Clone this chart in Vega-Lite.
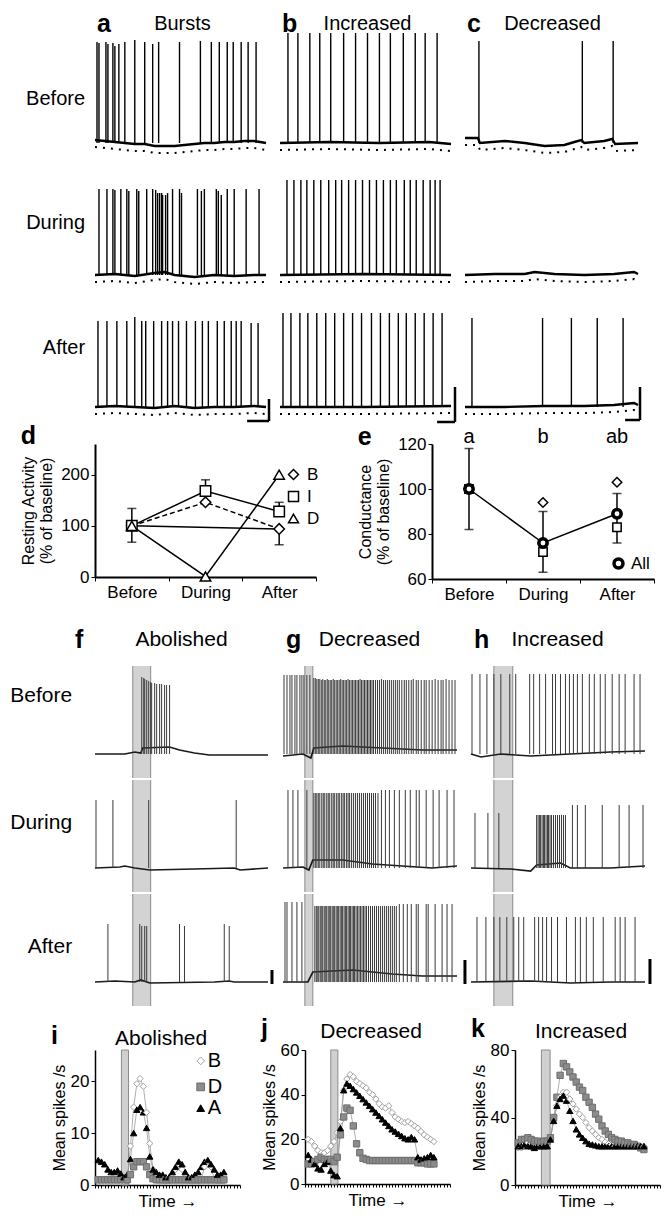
{
"$schema":"https://vega.github.io/schema/vega-lite/v6.json",
"background":"white",
"padding":{"left":10,"top":12,"right":4,"bottom":2},
"config":{"font":"Liberation Sans","view":{"stroke":null},
"axis":{"grid":false,"domainColor":"black","tickColor":"black","labelColor":"black","titleColor":"black","titleFontWeight":"normal"},
"header":{"labelColor":"black"},"legend":{"labelColor":"black"},"title":{"color":"black"},"text":{"color":"black"}},
"datasets":{
"top":[
{"p":"Bursts","c":"Before","k":"s","t":2,"h":101},{"p":"Bursts","c":"Before","k":"s","t":4,"h":100},{"p":"Bursts","c":"Before","k":"s","t":11,"h":101},{"p":"Bursts","c":"Before","k":"s","t":13,"h":99},{"p":"Bursts","c":"Before","k":"s","t":18,"h":100},{"p":"Bursts","c":"Before","k":"s","t":20,"h":97},{"p":"Bursts","c":"Before","k":"s","t":24,"h":99},{"p":"Bursts","c":"Before","k":"s","t":30,"h":101},{"p":"Bursts","c":"Before","k":"s","t":40,"h":103},{"p":"Bursts","c":"Before","k":"s","t":50,"h":101},{"p":"Bursts","c":"Before","k":"s","t":58,"h":99},{"p":"Bursts","c":"Before","k":"s","t":64,"h":101},{"p":"Bursts","c":"Before","k":"s","t":85,"h":101},{"p":"Bursts","c":"Before","k":"s","t":106,"h":102},{"p":"Bursts","c":"Before","k":"s","t":117,"h":101},{"p":"Bursts","c":"Before","k":"s","t":125,"h":101},{"p":"Bursts","c":"Before","k":"s","t":133,"h":101},{"p":"Bursts","c":"Before","k":"s","t":139,"h":101},{"p":"Bursts","c":"Before","k":"s","t":147,"h":101},{"p":"Bursts","c":"Before","k":"s","t":154,"h":101},{"p":"Bursts","c":"Before","k":"s","t":162,"h":101},
{"p":"Bursts","c":"During","k":"s","t":4,"h":86},{"p":"Bursts","c":"During","k":"s","t":12,"h":86},{"p":"Bursts","c":"During","k":"s","t":18,"h":86},{"p":"Bursts","c":"During","k":"s","t":20,"h":85},{"p":"Bursts","c":"During","k":"s","t":26,"h":86},{"p":"Bursts","c":"During","k":"s","t":32,"h":86},{"p":"Bursts","c":"During","k":"s","t":34,"h":84},{"p":"Bursts","c":"During","k":"s","t":42,"h":86},{"p":"Bursts","c":"During","k":"s","t":44,"h":84},{"p":"Bursts","c":"During","k":"s","t":52,"h":86},{"p":"Bursts","c":"During","k":"s","t":58,"h":86},{"p":"Bursts","c":"During","k":"s","t":61,"h":85},{"p":"Bursts","c":"During","k":"s","t":63,"h":82},{"p":"Bursts","c":"During","k":"s","t":65,"h":82},{"p":"Bursts","c":"During","k":"s","t":67,"h":82},{"p":"Bursts","c":"During","k":"s","t":68,"h":80},{"p":"Bursts","c":"During","k":"s","t":71,"h":80},{"p":"Bursts","c":"During","k":"s","t":73,"h":82},{"p":"Bursts","c":"During","k":"s","t":78,"h":86},{"p":"Bursts","c":"During","k":"s","t":85,"h":86},{"p":"Bursts","c":"During","k":"s","t":87,"h":82},{"p":"Bursts","c":"During","k":"s","t":103,"h":86},{"p":"Bursts","c":"During","k":"s","t":107,"h":84},{"p":"Bursts","c":"During","k":"s","t":110,"h":86},{"p":"Bursts","c":"During","k":"s","t":122,"h":86},{"p":"Bursts","c":"During","k":"s","t":124,"h":84},{"p":"Bursts","c":"During","k":"s","t":127,"h":80},{"p":"Bursts","c":"During","k":"s","t":133,"h":86},{"p":"Bursts","c":"During","k":"s","t":140,"h":86},{"p":"Bursts","c":"During","k":"s","t":152,"h":86},{"p":"Bursts","c":"During","k":"s","t":165,"h":86},
{"p":"Bursts","c":"After","k":"s","t":3,"h":86},{"p":"Bursts","c":"After","k":"s","t":12,"h":86},{"p":"Bursts","c":"After","k":"s","t":22,"h":86},{"p":"Bursts","c":"After","k":"s","t":32,"h":86},{"p":"Bursts","c":"After","k":"s","t":40,"h":90},{"p":"Bursts","c":"After","k":"s","t":47,"h":86},{"p":"Bursts","c":"After","k":"s","t":51,"h":86},{"p":"Bursts","c":"After","k":"s","t":59,"h":86},{"p":"Bursts","c":"After","k":"s","t":67,"h":86},{"p":"Bursts","c":"After","k":"s","t":73,"h":86},{"p":"Bursts","c":"After","k":"s","t":78,"h":86},{"p":"Bursts","c":"After","k":"s","t":84,"h":86},{"p":"Bursts","c":"After","k":"s","t":92,"h":86},{"p":"Bursts","c":"After","k":"s","t":101,"h":86},{"p":"Bursts","c":"After","k":"s","t":108,"h":86},{"p":"Bursts","c":"After","k":"s","t":114,"h":86},{"p":"Bursts","c":"After","k":"s","t":123,"h":86},{"p":"Bursts","c":"After","k":"s","t":130,"h":86},{"p":"Bursts","c":"After","k":"s","t":137,"h":86},{"p":"Bursts","c":"After","k":"s","t":142,"h":86},{"p":"Bursts","c":"After","k":"s","t":147,"h":86},{"p":"Bursts","c":"After","k":"s","t":157,"h":84},{"p":"Bursts","c":"After","k":"s","t":164,"h":84},
{"p":"Increased","c":"Before","k":"s","t":8,"h":110},{"p":"Increased","c":"Before","k":"s","t":18,"h":110},{"p":"Increased","c":"Before","k":"s","t":30,"h":110},{"p":"Increased","c":"Before","k":"s","t":40,"h":110},{"p":"Increased","c":"Before","k":"s","t":51,"h":110},{"p":"Increased","c":"Before","k":"s","t":64,"h":110},{"p":"Increased","c":"Before","k":"s","t":76,"h":110},{"p":"Increased","c":"Before","k":"s","t":88,"h":110},{"p":"Increased","c":"Before","k":"s","t":100,"h":110},{"p":"Increased","c":"Before","k":"s","t":111,"h":110},{"p":"Increased","c":"Before","k":"s","t":124,"h":110},{"p":"Increased","c":"Before","k":"s","t":136,"h":110},{"p":"Increased","c":"Before","k":"s","t":146,"h":110},{"p":"Increased","c":"Before","k":"s","t":158,"h":110},
{"p":"Increased","c":"During","k":"s","t":7,"h":95},{"p":"Increased","c":"During","k":"s","t":14,"h":95},{"p":"Increased","c":"During","k":"s","t":21,"h":95},{"p":"Increased","c":"During","k":"s","t":27,"h":95},{"p":"Increased","c":"During","k":"s","t":34,"h":95},{"p":"Increased","c":"During","k":"s","t":41,"h":95},{"p":"Increased","c":"During","k":"s","t":49,"h":95},{"p":"Increased","c":"During","k":"s","t":56,"h":95},{"p":"Increased","c":"During","k":"s","t":62,"h":95},{"p":"Increased","c":"During","k":"s","t":69,"h":95},{"p":"Increased","c":"During","k":"s","t":76,"h":95},{"p":"Increased","c":"During","k":"s","t":83,"h":95},{"p":"Increased","c":"During","k":"s","t":90,"h":95},{"p":"Increased","c":"During","k":"s","t":97,"h":95},{"p":"Increased","c":"During","k":"s","t":104,"h":95},{"p":"Increased","c":"During","k":"s","t":111,"h":95},{"p":"Increased","c":"During","k":"s","t":117,"h":95},{"p":"Increased","c":"During","k":"s","t":125,"h":95},{"p":"Increased","c":"During","k":"s","t":131,"h":95},{"p":"Increased","c":"During","k":"s","t":137,"h":95},{"p":"Increased","c":"During","k":"s","t":144,"h":95},{"p":"Increased","c":"During","k":"s","t":151,"h":95},{"p":"Increased","c":"During","k":"s","t":156,"h":95},{"p":"Increased","c":"During","k":"s","t":161,"h":95},
{"p":"Increased","c":"After","k":"s","t":3,"h":94},{"p":"Increased","c":"After","k":"s","t":11,"h":94},{"p":"Increased","c":"After","k":"s","t":20,"h":94},{"p":"Increased","c":"After","k":"s","t":28,"h":94},{"p":"Increased","c":"After","k":"s","t":37,"h":94},{"p":"Increased","c":"After","k":"s","t":46,"h":94},{"p":"Increased","c":"After","k":"s","t":55,"h":94},{"p":"Increased","c":"After","k":"s","t":64,"h":94},{"p":"Increased","c":"After","k":"s","t":73,"h":94},{"p":"Increased","c":"After","k":"s","t":82,"h":94},{"p":"Increased","c":"After","k":"s","t":92,"h":94},{"p":"Increased","c":"After","k":"s","t":101,"h":94},{"p":"Increased","c":"After","k":"s","t":110,"h":94},{"p":"Increased","c":"After","k":"s","t":119,"h":94},{"p":"Increased","c":"After","k":"s","t":127,"h":94},{"p":"Increased","c":"After","k":"s","t":136,"h":94},{"p":"Increased","c":"After","k":"s","t":145,"h":94},{"p":"Increased","c":"After","k":"s","t":154,"h":94},{"p":"Increased","c":"After","k":"s","t":163,"h":94},
{"p":"Decreased","c":"Before","k":"s","t":14,"h":102},{"p":"Decreased","c":"Before","k":"s","t":118,"h":102},{"p":"Decreased","c":"Before","k":"s","t":149,"h":102},
{"p":"Decreased","c":"After","k":"s","t":7,"h":89},{"p":"Decreased","c":"After","k":"s","t":78,"h":89},{"p":"Decreased","c":"After","k":"s","t":107,"h":89},{"p":"Decreased","c":"After","k":"s","t":133,"h":89},{"p":"Decreased","c":"After","k":"s","t":159,"h":89},
{"p":"Bursts","c":"Before","k":"b","t":0,"v":3},{"p":"Bursts","c":"Before","k":"b","t":10,"v":2},{"p":"Bursts","c":"Before","k":"b","t":20,"v":1},{"p":"Bursts","c":"Before","k":"b","t":30,"v":0},{"p":"Bursts","c":"Before","k":"b","t":40,"v":-1},{"p":"Bursts","c":"Before","k":"b","t":50,"v":-1},{"p":"Bursts","c":"Before","k":"b","t":60,"v":-3},{"p":"Bursts","c":"Before","k":"b","t":70,"v":-3},{"p":"Bursts","c":"Before","k":"b","t":80,"v":-3},{"p":"Bursts","c":"Before","k":"b","t":90,"v":-2},{"p":"Bursts","c":"Before","k":"b","t":100,"v":-1},{"p":"Bursts","c":"Before","k":"b","t":110,"v":0},{"p":"Bursts","c":"Before","k":"b","t":120,"v":0},{"p":"Bursts","c":"Before","k":"b","t":130,"v":1},{"p":"Bursts","c":"Before","k":"b","t":140,"v":1},{"p":"Bursts","c":"Before","k":"b","t":150,"v":2},{"p":"Bursts","c":"Before","k":"b","t":160,"v":2},{"p":"Bursts","c":"Before","k":"b","t":172,"v":0},
{"p":"Bursts","c":"During","k":"b","t":0,"v":0},{"p":"Bursts","c":"During","k":"b","t":20,"v":1},{"p":"Bursts","c":"During","k":"b","t":40,"v":-1},{"p":"Bursts","c":"During","k":"b","t":60,"v":2},{"p":"Bursts","c":"During","k":"b","t":70,"v":3},{"p":"Bursts","c":"During","k":"b","t":80,"v":0},{"p":"Bursts","c":"During","k":"b","t":100,"v":-2},{"p":"Bursts","c":"During","k":"b","t":120,"v":0},{"p":"Bursts","c":"During","k":"b","t":140,"v":-1},{"p":"Bursts","c":"During","k":"b","t":160,"v":0},{"p":"Bursts","c":"During","k":"b","t":172,"v":0},
{"p":"Bursts","c":"After","k":"b","t":0,"v":0},{"p":"Bursts","c":"After","k":"b","t":20,"v":1},{"p":"Bursts","c":"After","k":"b","t":40,"v":0},{"p":"Bursts","c":"After","k":"b","t":60,"v":-1},{"p":"Bursts","c":"After","k":"b","t":80,"v":1},{"p":"Bursts","c":"After","k":"b","t":100,"v":-1},{"p":"Bursts","c":"After","k":"b","t":120,"v":0},{"p":"Bursts","c":"After","k":"b","t":140,"v":0},{"p":"Bursts","c":"After","k":"b","t":160,"v":1},{"p":"Bursts","c":"After","k":"b","t":172,"v":0},
{"p":"Increased","c":"Before","k":"b","t":0,"v":0},{"p":"Increased","c":"Before","k":"b","t":50,"v":1},{"p":"Increased","c":"Before","k":"b","t":100,"v":0},{"p":"Increased","c":"Before","k":"b","t":150,"v":1},{"p":"Increased","c":"Before","k":"b","t":172,"v":-1},
{"p":"Increased","c":"During","k":"b","t":0,"v":0},{"p":"Increased","c":"During","k":"b","t":85,"v":1},{"p":"Increased","c":"During","k":"b","t":172,"v":0},
{"p":"Increased","c":"After","k":"b","t":0,"v":0},{"p":"Increased","c":"After","k":"b","t":85,"v":0},{"p":"Increased","c":"After","k":"b","t":172,"v":1},
{"p":"Decreased","c":"Before","k":"b","t":0,"v":5},{"p":"Decreased","c":"Before","k":"b","t":13,"v":5},{"p":"Decreased","c":"Before","k":"b","t":15,"v":0},{"p":"Decreased","c":"Before","k":"b","t":40,"v":2},{"p":"Decreased","c":"Before","k":"b","t":60,"v":0},{"p":"Decreased","c":"Before","k":"b","t":80,"v":-3},{"p":"Decreased","c":"Before","k":"b","t":100,"v":-2},{"p":"Decreased","c":"Before","k":"b","t":110,"v":1},{"p":"Decreased","c":"Before","k":"b","t":117,"v":3},{"p":"Decreased","c":"Before","k":"b","t":120,"v":0},{"p":"Decreased","c":"Before","k":"b","t":140,"v":2},{"p":"Decreased","c":"Before","k":"b","t":148,"v":4},{"p":"Decreased","c":"Before","k":"b","t":151,"v":-1},{"p":"Decreased","c":"Before","k":"b","t":174,"v":0},
{"p":"Decreased","c":"During","k":"b","t":0,"v":0},{"p":"Decreased","c":"During","k":"b","t":30,"v":1},{"p":"Decreased","c":"During","k":"b","t":60,"v":1},{"p":"Decreased","c":"During","k":"b","t":70,"v":3},{"p":"Decreased","c":"During","k":"b","t":90,"v":1},{"p":"Decreased","c":"During","k":"b","t":120,"v":0},{"p":"Decreased","c":"During","k":"b","t":150,"v":1},{"p":"Decreased","c":"During","k":"b","t":170,"v":3},{"p":"Decreased","c":"During","k":"b","t":174,"v":1},
{"p":"Decreased","c":"After","k":"b","t":0,"v":0},{"p":"Decreased","c":"After","k":"b","t":40,"v":0},{"p":"Decreased","c":"After","k":"b","t":80,"v":1},{"p":"Decreased","c":"After","k":"b","t":120,"v":1},{"p":"Decreased","c":"After","k":"b","t":150,"v":2},{"p":"Decreased","c":"After","k":"b","t":160,"v":3},{"p":"Decreased","c":"After","k":"b","t":170,"v":4},{"p":"Decreased","c":"After","k":"b","t":174,"v":2},
{"p":"Bursts","c":"After","k":"sb","t":175,"t2":175,"v1":-14,"v2":8},{"p":"Bursts","c":"After","k":"sb","t":153,"t2":175,"v1":-14,"v2":-14},
{"p":"Increased","c":"After","k":"sb","t":176,"t2":176,"v1":-15,"v2":20},{"p":"Increased","c":"After","k":"sb","t":158,"t2":176,"v1":-15,"v2":-15},
{"p":"Decreased","c":"After","k":"sb","t":176,"t2":176,"v1":-13,"v2":20},{"p":"Decreased","c":"After","k":"sb","t":161,"t2":176,"v1":-13,"v2":-13},
{"p":"Bursts","c":"Before","k":"l","txt":"a"},{"p":"Increased","c":"Before","k":"l","txt":"b"},{"p":"Decreased","c":"Before","k":"l","txt":"c"}
],
"fh":[
{"p":"Abolished","c":"Before","k":"s","t":47,"h":77},{"p":"Abolished","c":"Before","k":"s","t":49,"h":76},{"p":"Abolished","c":"Before","k":"s","t":50,"h":75},{"p":"Abolished","c":"Before","k":"s","t":52,"h":74},{"p":"Abolished","c":"Before","k":"s","t":54,"h":73},{"p":"Abolished","c":"Before","k":"s","t":56,"h":72},{"p":"Abolished","c":"Before","k":"s","t":57,"h":71},{"p":"Abolished","c":"Before","k":"s","t":60,"h":71},{"p":"Abolished","c":"Before","k":"s","t":62,"h":70},{"p":"Abolished","c":"Before","k":"s","t":65,"h":70},{"p":"Abolished","c":"Before","k":"s","t":67,"h":70},{"p":"Abolished","c":"Before","k":"s","t":70,"h":69},{"p":"Abolished","c":"Before","k":"s","t":72,"h":69},{"p":"Abolished","c":"Before","k":"s","t":75,"h":69},
{"p":"Abolished","c":"During","k":"s","t":1,"h":68},{"p":"Abolished","c":"During","k":"s","t":18,"h":68},{"p":"Abolished","c":"During","k":"s","t":54,"h":68},{"p":"Abolished","c":"During","k":"s","t":142,"h":68},
{"p":"Abolished","c":"After","k":"s","t":13,"h":58},{"p":"Abolished","c":"After","k":"s","t":45,"h":58},{"p":"Abolished","c":"After","k":"s","t":47,"h":56},{"p":"Abolished","c":"After","k":"s","t":50,"h":56},{"p":"Abolished","c":"After","k":"s","t":52,"h":56},{"p":"Abolished","c":"After","k":"s","t":85,"h":58},{"p":"Abolished","c":"After","k":"s","t":90,"h":56},{"p":"Abolished","c":"After","k":"s","t":130,"h":58},{"p":"Abolished","c":"After","k":"s","t":135,"h":56},
{"p":"Decreased","c":"Before","k":"s","t":1,"h":79},{"p":"Decreased","c":"Before","k":"s","t":4,"h":79},{"p":"Decreased","c":"Before","k":"s","t":7,"h":79},{"p":"Decreased","c":"Before","k":"s","t":9,"h":79},{"p":"Decreased","c":"Before","k":"s","t":12,"h":79},{"p":"Decreased","c":"Before","k":"s","t":14,"h":79},{"p":"Decreased","c":"Before","k":"s","t":17,"h":79},{"p":"Decreased","c":"Before","k":"s","t":19,"h":79},{"p":"Decreased","c":"Before","k":"s","t":21,"h":79},{"p":"Decreased","c":"Before","k":"s","t":24,"h":79},{"p":"Decreased","c":"Before","k":"s","t":27,"h":79},
{"p":"Decreased","c":"Before","k":"s","t":31,"h":76},{"p":"Decreased","c":"Before","k":"s","t":32.5,"h":76},{"p":"Decreased","c":"Before","k":"s","t":34,"h":75},{"p":"Decreased","c":"Before","k":"s","t":35.5,"h":75},{"p":"Decreased","c":"Before","k":"s","t":37,"h":75},{"p":"Decreased","c":"Before","k":"s","t":38.5,"h":74},{"p":"Decreased","c":"Before","k":"s","t":40,"h":75},{"p":"Decreased","c":"Before","k":"s","t":41.5,"h":74},{"p":"Decreased","c":"Before","k":"s","t":43,"h":74},{"p":"Decreased","c":"Before","k":"s","t":44.5,"h":75},{"p":"Decreased","c":"Before","k":"s","t":46,"h":74},{"p":"Decreased","c":"Before","k":"s","t":47.5,"h":74},{"p":"Decreased","c":"Before","k":"s","t":49,"h":74},{"p":"Decreased","c":"Before","k":"s","t":50.5,"h":75},{"p":"Decreased","c":"Before","k":"s","t":52,"h":74},{"p":"Decreased","c":"Before","k":"s","t":53.5,"h":74},{"p":"Decreased","c":"Before","k":"s","t":55,"h":74},{"p":"Decreased","c":"Before","k":"s","t":56.5,"h":74},{"p":"Decreased","c":"Before","k":"s","t":58,"h":75},{"p":"Decreased","c":"Before","k":"s","t":59.5,"h":74},{"p":"Decreased","c":"Before","k":"s","t":61,"h":74},{"p":"Decreased","c":"Before","k":"s","t":62.5,"h":74},{"p":"Decreased","c":"Before","k":"s","t":64,"h":74},{"p":"Decreased","c":"Before","k":"s","t":65.5,"h":75},{"p":"Decreased","c":"Before","k":"s","t":67,"h":74},{"p":"Decreased","c":"Before","k":"s","t":68.5,"h":74},{"p":"Decreased","c":"Before","k":"s","t":70,"h":74},{"p":"Decreased","c":"Before","k":"s","t":71.5,"h":74},{"p":"Decreased","c":"Before","k":"s","t":73,"h":74},{"p":"Decreased","c":"Before","k":"s","t":74.5,"h":74},{"p":"Decreased","c":"Before","k":"s","t":76,"h":74},{"p":"Decreased","c":"Before","k":"s","t":77.5,"h":75},{"p":"Decreased","c":"Before","k":"s","t":79,"h":74},{"p":"Decreased","c":"Before","k":"s","t":80.5,"h":74},{"p":"Decreased","c":"Before","k":"s","t":82,"h":74},{"p":"Decreased","c":"Before","k":"s","t":83.5,"h":74},{"p":"Decreased","c":"Before","k":"s","t":85,"h":74},{"p":"Decreased","c":"Before","k":"s","t":86.5,"h":74},{"p":"Decreased","c":"Before","k":"s","t":88,"h":74},{"p":"Decreased","c":"Before","k":"s","t":89.5,"h":74},{"p":"Decreased","c":"Before","k":"s","t":91,"h":74},{"p":"Decreased","c":"Before","k":"s","t":93,"h":74},{"p":"Decreased","c":"Before","k":"s","t":95,"h":74},{"p":"Decreased","c":"Before","k":"s","t":97,"h":74},{"p":"Decreased","c":"Before","k":"s","t":99,"h":75},{"p":"Decreased","c":"Before","k":"s","t":101,"h":74},{"p":"Decreased","c":"Before","k":"s","t":103,"h":74},{"p":"Decreased","c":"Before","k":"s","t":105,"h":74},{"p":"Decreased","c":"Before","k":"s","t":107,"h":74},{"p":"Decreased","c":"Before","k":"s","t":109,"h":74},{"p":"Decreased","c":"Before","k":"s","t":111,"h":74},{"p":"Decreased","c":"Before","k":"s","t":113,"h":74},{"p":"Decreased","c":"Before","k":"s","t":115,"h":74},{"p":"Decreased","c":"Before","k":"s","t":117,"h":74},{"p":"Decreased","c":"Before","k":"s","t":119.5,"h":74},{"p":"Decreased","c":"Before","k":"s","t":122,"h":74},{"p":"Decreased","c":"Before","k":"s","t":124,"h":74},{"p":"Decreased","c":"Before","k":"s","t":126.5,"h":74},{"p":"Decreased","c":"Before","k":"s","t":129,"h":74},{"p":"Decreased","c":"Before","k":"s","t":131,"h":75},{"p":"Decreased","c":"Before","k":"s","t":134,"h":74},{"p":"Decreased","c":"Before","k":"s","t":136,"h":74},{"p":"Decreased","c":"Before","k":"s","t":139,"h":74},{"p":"Decreased","c":"Before","k":"s","t":142,"h":74},{"p":"Decreased","c":"Before","k":"s","t":144,"h":74},{"p":"Decreased","c":"Before","k":"s","t":147,"h":74},{"p":"Decreased","c":"Before","k":"s","t":150,"h":74},{"p":"Decreased","c":"Before","k":"s","t":153,"h":75},{"p":"Decreased","c":"Before","k":"s","t":156,"h":74},{"p":"Decreased","c":"Before","k":"s","t":159,"h":74},{"p":"Decreased","c":"Before","k":"s","t":161,"h":74},{"p":"Decreased","c":"Before","k":"s","t":164,"h":75},{"p":"Decreased","c":"Before","k":"s","t":167,"h":74},{"p":"Decreased","c":"Before","k":"s","t":170,"h":74},{"p":"Decreased","c":"Before","k":"s","t":173,"h":74},
{"p":"Decreased","c":"During","k":"s","t":5,"h":78},{"p":"Decreased","c":"During","k":"s","t":10,"h":78},{"p":"Decreased","c":"During","k":"s","t":15,"h":78},{"p":"Decreased","c":"During","k":"s","t":24,"h":78},
{"p":"Decreased","c":"During","k":"s","t":31,"h":75},{"p":"Decreased","c":"During","k":"s","t":32.5,"h":75},{"p":"Decreased","c":"During","k":"s","t":34,"h":75},{"p":"Decreased","c":"During","k":"s","t":35.5,"h":75},{"p":"Decreased","c":"During","k":"s","t":37,"h":75},{"p":"Decreased","c":"During","k":"s","t":39,"h":75},{"p":"Decreased","c":"During","k":"s","t":40.5,"h":75},{"p":"Decreased","c":"During","k":"s","t":42,"h":75},{"p":"Decreased","c":"During","k":"s","t":44,"h":75},{"p":"Decreased","c":"During","k":"s","t":45.5,"h":75},{"p":"Decreased","c":"During","k":"s","t":47,"h":75},{"p":"Decreased","c":"During","k":"s","t":49,"h":75},{"p":"Decreased","c":"During","k":"s","t":50.5,"h":75},{"p":"Decreased","c":"During","k":"s","t":52,"h":75},{"p":"Decreased","c":"During","k":"s","t":54,"h":75},{"p":"Decreased","c":"During","k":"s","t":55.5,"h":75},{"p":"Decreased","c":"During","k":"s","t":57,"h":75},{"p":"Decreased","c":"During","k":"s","t":59,"h":75},{"p":"Decreased","c":"During","k":"s","t":60.5,"h":75},{"p":"Decreased","c":"During","k":"s","t":62,"h":75},{"p":"Decreased","c":"During","k":"s","t":64,"h":75},{"p":"Decreased","c":"During","k":"s","t":65.5,"h":75},{"p":"Decreased","c":"During","k":"s","t":67,"h":75},{"p":"Decreased","c":"During","k":"s","t":69,"h":75},{"p":"Decreased","c":"During","k":"s","t":71,"h":75},{"p":"Decreased","c":"During","k":"s","t":73,"h":75},{"p":"Decreased","c":"During","k":"s","t":75,"h":75},{"p":"Decreased","c":"During","k":"s","t":77,"h":75},{"p":"Decreased","c":"During","k":"s","t":79,"h":75},{"p":"Decreased","c":"During","k":"s","t":81,"h":75},{"p":"Decreased","c":"During","k":"s","t":83,"h":75},{"p":"Decreased","c":"During","k":"s","t":85,"h":75},{"p":"Decreased","c":"During","k":"s","t":87,"h":75},{"p":"Decreased","c":"During","k":"s","t":89,"h":75},{"p":"Decreased","c":"During","k":"s","t":91,"h":75},{"p":"Decreased","c":"During","k":"s","t":93,"h":75},{"p":"Decreased","c":"During","k":"s","t":95.5,"h":75},
{"p":"Decreased","c":"During","k":"s","t":99,"h":78},{"p":"Decreased","c":"During","k":"s","t":103,"h":78},{"p":"Decreased","c":"During","k":"s","t":107,"h":78},{"p":"Decreased","c":"During","k":"s","t":112,"h":78},{"p":"Decreased","c":"During","k":"s","t":117,"h":78},{"p":"Decreased","c":"During","k":"s","t":123,"h":78},{"p":"Decreased","c":"During","k":"s","t":128,"h":78},{"p":"Decreased","c":"During","k":"s","t":134,"h":78},{"p":"Decreased","c":"During","k":"s","t":137,"h":78},{"p":"Decreased","c":"During","k":"s","t":144,"h":78},{"p":"Decreased","c":"During","k":"s","t":151,"h":78},{"p":"Decreased","c":"During","k":"s","t":157,"h":78},{"p":"Decreased","c":"During","k":"s","t":165,"h":78},{"p":"Decreased","c":"During","k":"s","t":172,"h":78},
{"p":"Decreased","c":"After","k":"s","t":2,"h":80},{"p":"Decreased","c":"After","k":"s","t":4,"h":80},{"p":"Decreased","c":"After","k":"s","t":9,"h":80},{"p":"Decreased","c":"After","k":"s","t":14,"h":80},{"p":"Decreased","c":"After","k":"s","t":19,"h":80},
{"p":"Decreased","c":"After","k":"s","t":32,"h":76},{"p":"Decreased","c":"After","k":"s","t":33.5,"h":76},{"p":"Decreased","c":"After","k":"s","t":35,"h":76},{"p":"Decreased","c":"After","k":"s","t":36,"h":76},{"p":"Decreased","c":"After","k":"s","t":37.5,"h":76},{"p":"Decreased","c":"After","k":"s","t":39,"h":76},{"p":"Decreased","c":"After","k":"s","t":40,"h":76},{"p":"Decreased","c":"After","k":"s","t":41.5,"h":76},{"p":"Decreased","c":"After","k":"s","t":43,"h":76},{"p":"Decreased","c":"After","k":"s","t":44,"h":76},{"p":"Decreased","c":"After","k":"s","t":45.5,"h":76},{"p":"Decreased","c":"After","k":"s","t":47,"h":76},{"p":"Decreased","c":"After","k":"s","t":48,"h":76},{"p":"Decreased","c":"After","k":"s","t":49.5,"h":76},{"p":"Decreased","c":"After","k":"s","t":51,"h":76},{"p":"Decreased","c":"After","k":"s","t":52,"h":76},{"p":"Decreased","c":"After","k":"s","t":53.5,"h":76},{"p":"Decreased","c":"After","k":"s","t":55,"h":76},{"p":"Decreased","c":"After","k":"s","t":56,"h":76},{"p":"Decreased","c":"After","k":"s","t":57.5,"h":76},{"p":"Decreased","c":"After","k":"s","t":59,"h":76},{"p":"Decreased","c":"After","k":"s","t":60,"h":76},{"p":"Decreased","c":"After","k":"s","t":61.5,"h":76},{"p":"Decreased","c":"After","k":"s","t":63,"h":76},{"p":"Decreased","c":"After","k":"s","t":64,"h":76},{"p":"Decreased","c":"After","k":"s","t":65.5,"h":76},{"p":"Decreased","c":"After","k":"s","t":67,"h":76},{"p":"Decreased","c":"After","k":"s","t":68,"h":76},{"p":"Decreased","c":"After","k":"s","t":69.5,"h":76},{"p":"Decreased","c":"After","k":"s","t":71,"h":76},{"p":"Decreased","c":"After","k":"s","t":72,"h":76},{"p":"Decreased","c":"After","k":"s","t":73.5,"h":76},{"p":"Decreased","c":"After","k":"s","t":75,"h":76},{"p":"Decreased","c":"After","k":"s","t":76.5,"h":76},{"p":"Decreased","c":"After","k":"s","t":78,"h":76},{"p":"Decreased","c":"After","k":"s","t":79.5,"h":76},{"p":"Decreased","c":"After","k":"s","t":81,"h":76},{"p":"Decreased","c":"After","k":"s","t":82.5,"h":76},{"p":"Decreased","c":"After","k":"s","t":84,"h":76},{"p":"Decreased","c":"After","k":"s","t":86,"h":76},{"p":"Decreased","c":"After","k":"s","t":88,"h":76},{"p":"Decreased","c":"After","k":"s","t":90,"h":76},{"p":"Decreased","c":"After","k":"s","t":92,"h":76},{"p":"Decreased","c":"After","k":"s","t":94,"h":76},{"p":"Decreased","c":"After","k":"s","t":96,"h":76},{"p":"Decreased","c":"After","k":"s","t":98,"h":76},{"p":"Decreased","c":"After","k":"s","t":100,"h":76},{"p":"Decreased","c":"After","k":"s","t":102,"h":76},{"p":"Decreased","c":"After","k":"s","t":104,"h":76},{"p":"Decreased","c":"After","k":"s","t":106,"h":76},{"p":"Decreased","c":"After","k":"s","t":108,"h":76},{"p":"Decreased","c":"After","k":"s","t":110,"h":76},{"p":"Decreased","c":"After","k":"s","t":112,"h":76},{"p":"Decreased","c":"After","k":"s","t":114,"h":76},
{"p":"Decreased","c":"After","k":"s","t":117,"h":78},{"p":"Decreased","c":"After","k":"s","t":121,"h":78},{"p":"Decreased","c":"After","k":"s","t":125,"h":78},{"p":"Decreased","c":"After","k":"s","t":129,"h":78},{"p":"Decreased","c":"After","k":"s","t":134,"h":78},{"p":"Decreased","c":"After","k":"s","t":136,"h":78},{"p":"Decreased","c":"After","k":"s","t":144,"h":78},{"p":"Decreased","c":"After","k":"s","t":146,"h":78},{"p":"Decreased","c":"After","k":"s","t":153,"h":78},{"p":"Decreased","c":"After","k":"s","t":160,"h":78},{"p":"Decreased","c":"After","k":"s","t":165,"h":78},{"p":"Decreased","c":"After","k":"s","t":170,"h":78},
{"p":"Increased","c":"Before","k":"s","t":1,"h":80},{"p":"Increased","c":"Before","k":"s","t":9,"h":80},{"p":"Increased","c":"Before","k":"s","t":16,"h":80},{"p":"Increased","c":"Before","k":"s","t":23,"h":80},{"p":"Increased","c":"Before","k":"s","t":30,"h":80},{"p":"Increased","c":"Before","k":"s","t":39,"h":80},{"p":"Increased","c":"Before","k":"s","t":45,"h":80},{"p":"Increased","c":"Before","k":"s","t":59,"h":80},{"p":"Increased","c":"Before","k":"s","t":63,"h":80},{"p":"Increased","c":"Before","k":"s","t":69,"h":80},{"p":"Increased","c":"Before","k":"s","t":75,"h":80},{"p":"Increased","c":"Before","k":"s","t":82,"h":80},{"p":"Increased","c":"Before","k":"s","t":85,"h":80},{"p":"Increased","c":"Before","k":"s","t":90,"h":80},{"p":"Increased","c":"Before","k":"s","t":95,"h":80},{"p":"Increased","c":"Before","k":"s","t":99,"h":80},{"p":"Increased","c":"Before","k":"s","t":103,"h":80},{"p":"Increased","c":"Before","k":"s","t":107,"h":80},{"p":"Increased","c":"Before","k":"s","t":112,"h":80},{"p":"Increased","c":"Before","k":"s","t":119,"h":80},{"p":"Increased","c":"Before","k":"s","t":124,"h":80},{"p":"Increased","c":"Before","k":"s","t":130,"h":80},{"p":"Increased","c":"Before","k":"s","t":135,"h":80},{"p":"Increased","c":"Before","k":"s","t":142,"h":80},{"p":"Increased","c":"Before","k":"s","t":149,"h":80},{"p":"Increased","c":"Before","k":"s","t":155,"h":80},{"p":"Increased","c":"Before","k":"s","t":164,"h":80},{"p":"Increased","c":"Before","k":"s","t":170,"h":80},
{"p":"Increased","c":"During","k":"s","t":4,"h":55},{"p":"Increased","c":"During","k":"s","t":17,"h":55},{"p":"Increased","c":"During","k":"s","t":28,"h":55},
{"p":"Increased","c":"During","k":"s","t":66,"h":53},{"p":"Increased","c":"During","k":"s","t":67.5,"h":53},{"p":"Increased","c":"During","k":"s","t":69,"h":53},{"p":"Increased","c":"During","k":"s","t":70,"h":53},{"p":"Increased","c":"During","k":"s","t":71.5,"h":53},{"p":"Increased","c":"During","k":"s","t":73,"h":53},{"p":"Increased","c":"During","k":"s","t":74,"h":53},{"p":"Increased","c":"During","k":"s","t":75.5,"h":53},{"p":"Increased","c":"During","k":"s","t":77,"h":53},{"p":"Increased","c":"During","k":"s","t":78,"h":53},{"p":"Increased","c":"During","k":"s","t":79.5,"h":53},{"p":"Increased","c":"During","k":"s","t":81,"h":53},{"p":"Increased","c":"During","k":"s","t":83,"h":53},{"p":"Increased","c":"During","k":"s","t":85,"h":53},{"p":"Increased","c":"During","k":"s","t":87,"h":53},{"p":"Increased","c":"During","k":"s","t":89,"h":53},{"p":"Increased","c":"During","k":"s","t":91,"h":53},{"p":"Increased","c":"During","k":"s","t":93,"h":53},{"p":"Increased","c":"During","k":"s","t":95,"h":53},
{"p":"Increased","c":"During","k":"s","t":102,"h":63},{"p":"Increased","c":"During","k":"s","t":107,"h":63},{"p":"Increased","c":"During","k":"s","t":115,"h":63},{"p":"Increased","c":"During","k":"s","t":132,"h":63},{"p":"Increased","c":"During","k":"s","t":149,"h":63},{"p":"Increased","c":"During","k":"s","t":159,"h":63},{"p":"Increased","c":"During","k":"s","t":173,"h":63},
{"p":"Increased","c":"After","k":"s","t":6,"h":65},{"p":"Increased","c":"After","k":"s","t":15,"h":65},{"p":"Increased","c":"After","k":"s","t":23,"h":65},{"p":"Increased","c":"After","k":"s","t":29,"h":65},{"p":"Increased","c":"After","k":"s","t":36,"h":65},{"p":"Increased","c":"After","k":"s","t":43,"h":65},{"p":"Increased","c":"After","k":"s","t":48,"h":65},{"p":"Increased","c":"After","k":"s","t":53,"h":65},{"p":"Increased","c":"After","k":"s","t":64,"h":65},{"p":"Increased","c":"After","k":"s","t":68,"h":65},{"p":"Increased","c":"After","k":"s","t":72,"h":65},{"p":"Increased","c":"After","k":"s","t":76,"h":65},{"p":"Increased","c":"After","k":"s","t":81,"h":65},{"p":"Increased","c":"After","k":"s","t":87,"h":65},{"p":"Increased","c":"After","k":"s","t":96,"h":65},{"p":"Increased","c":"After","k":"s","t":105,"h":65},{"p":"Increased","c":"After","k":"s","t":110,"h":65},{"p":"Increased","c":"After","k":"s","t":116,"h":65},{"p":"Increased","c":"After","k":"s","t":123,"h":65},{"p":"Increased","c":"After","k":"s","t":133,"h":65},{"p":"Increased","c":"After","k":"s","t":145,"h":65},{"p":"Increased","c":"After","k":"s","t":150,"h":65},{"p":"Increased","c":"After","k":"s","t":155,"h":65},{"p":"Increased","c":"After","k":"s","t":165,"h":65},
{"p":"Abolished","c":"Before","k":"b","t":0,"v":0},{"p":"Abolished","c":"Before","k":"b","t":30,"v":0},{"p":"Abolished","c":"Before","k":"b","t":40,"v":2},{"p":"Abolished","c":"Before","k":"b","t":46,"v":1},{"p":"Abolished","c":"Before","k":"b","t":48,"v":6},{"p":"Abolished","c":"Before","k":"b","t":75,"v":7},{"p":"Abolished","c":"Before","k":"b","t":85,"v":4},{"p":"Abolished","c":"Before","k":"b","t":100,"v":1},{"p":"Abolished","c":"Before","k":"b","t":115,"v":-1},{"p":"Abolished","c":"Before","k":"b","t":174,"v":-1},
{"p":"Abolished","c":"During","k":"b","t":0,"v":0},{"p":"Abolished","c":"During","k":"b","t":25,"v":1},{"p":"Abolished","c":"During","k":"b","t":30,"v":2},{"p":"Abolished","c":"During","k":"b","t":40,"v":0},{"p":"Abolished","c":"During","k":"b","t":55,"v":-2},{"p":"Abolished","c":"During","k":"b","t":100,"v":-1},{"p":"Abolished","c":"During","k":"b","t":140,"v":0},{"p":"Abolished","c":"During","k":"b","t":146,"v":-2},{"p":"Abolished","c":"During","k":"b","t":174,"v":0},
{"p":"Abolished","c":"After","k":"b","t":0,"v":0},{"p":"Abolished","c":"After","k":"b","t":20,"v":1},{"p":"Abolished","c":"After","k":"b","t":40,"v":0},{"p":"Abolished","c":"After","k":"b","t":46,"v":2},{"p":"Abolished","c":"After","k":"b","t":55,"v":-1},{"p":"Abolished","c":"After","k":"b","t":120,"v":0},{"p":"Abolished","c":"After","k":"b","t":135,"v":1},{"p":"Abolished","c":"After","k":"b","t":140,"v":0},{"p":"Abolished","c":"After","k":"b","t":174,"v":0},
{"p":"Decreased","c":"Before","k":"b","t":0,"v":-2},{"p":"Decreased","c":"Before","k":"b","t":20,"v":0},{"p":"Decreased","c":"Before","k":"b","t":28,"v":-4},{"p":"Decreased","c":"Before","k":"b","t":31,"v":6},{"p":"Decreased","c":"Before","k":"b","t":60,"v":8},{"p":"Decreased","c":"Before","k":"b","t":100,"v":6},{"p":"Decreased","c":"Before","k":"b","t":140,"v":4},{"p":"Decreased","c":"Before","k":"b","t":175,"v":4},
{"p":"Decreased","c":"During","k":"b","t":0,"v":0},{"p":"Decreased","c":"During","k":"b","t":20,"v":1},{"p":"Decreased","c":"During","k":"b","t":26,"v":-2},{"p":"Decreased","c":"During","k":"b","t":30,"v":8},{"p":"Decreased","c":"During","k":"b","t":60,"v":8},{"p":"Decreased","c":"During","k":"b","t":90,"v":4},{"p":"Decreased","c":"During","k":"b","t":120,"v":2},{"p":"Decreased","c":"During","k":"b","t":150,"v":0},{"p":"Decreased","c":"During","k":"b","t":175,"v":2},
{"p":"Decreased","c":"After","k":"b","t":0,"v":0},{"p":"Decreased","c":"After","k":"b","t":25,"v":0},{"p":"Decreased","c":"After","k":"b","t":30,"v":10},{"p":"Decreased","c":"After","k":"b","t":70,"v":12},{"p":"Decreased","c":"After","k":"b","t":110,"v":8},{"p":"Decreased","c":"After","k":"b","t":140,"v":6},{"p":"Decreased","c":"After","k":"b","t":175,"v":6},
{"p":"Increased","c":"Before","k":"b","t":0,"v":0},{"p":"Increased","c":"Before","k":"b","t":10,"v":-3},{"p":"Increased","c":"Before","k":"b","t":30,"v":0},{"p":"Increased","c":"Before","k":"b","t":60,"v":-2},{"p":"Increased","c":"Before","k":"b","t":100,"v":0},{"p":"Increased","c":"Before","k":"b","t":140,"v":2},{"p":"Increased","c":"Before","k":"b","t":175,"v":3},
{"p":"Increased","c":"During","k":"b","t":0,"v":0},{"p":"Increased","c":"During","k":"b","t":40,"v":-1},{"p":"Increased","c":"During","k":"b","t":60,"v":-3},{"p":"Increased","c":"During","k":"b","t":66,"v":3},{"p":"Increased","c":"During","k":"b","t":90,"v":5},{"p":"Increased","c":"During","k":"b","t":100,"v":0},{"p":"Increased","c":"During","k":"b","t":140,"v":0},{"p":"Increased","c":"During","k":"b","t":175,"v":2},
{"p":"Increased","c":"After","k":"b","t":0,"v":0},{"p":"Increased","c":"After","k":"b","t":60,"v":1},{"p":"Increased","c":"After","k":"b","t":100,"v":-1},{"p":"Increased","c":"After","k":"b","t":140,"v":0},{"p":"Increased","c":"After","k":"b","t":175,"v":0},
{"p":"Abolished","c":"Before","k":"r","r1":38,"r2":56},{"p":"Abolished","c":"During","k":"r","r1":38,"r2":56},{"p":"Abolished","c":"After","k":"r","r1":38,"r2":56},
{"p":"Decreased","c":"Before","k":"r","r1":22,"r2":30},{"p":"Decreased","c":"During","k":"r","r1":22,"r2":30},{"p":"Decreased","c":"After","k":"r","r1":22,"r2":30},
{"p":"Increased","c":"Before","k":"r","r1":23,"r2":42},{"p":"Increased","c":"During","k":"r","r1":23,"r2":42},{"p":"Increased","c":"After","k":"r","r1":23,"r2":42},
{"p":"Abolished","c":"After","k":"sb","t":178,"t2":178,"v1":-2,"v2":12},{"p":"Decreased","c":"After","k":"sb","t":183,"t2":183,"v1":-2,"v2":22},{"p":"Increased","c":"After","k":"sb","t":180,"t2":180,"v1":-2,"v2":23},
{"p":"Abolished","c":"Before","k":"l","txt":"f"},{"p":"Decreased","c":"Before","k":"l","txt":"g"},{"p":"Increased","c":"Before","k":"l","txt":"h"}
],
"dpts":[{"cond":"Before","s":"B","v":100},{"cond":"During","s":"B","v":146},{"cond":"After","s":"B","v":94},{"cond":"Before","s":"I","v":100},{"cond":"During","s":"I","v":168},{"cond":"After","s":"I","v":128},{"cond":"Before","s":"D","v":100},{"cond":"During","s":"D","v":1},{"cond":"After","s":"D","v":200}],
"dflat":[{"cond":"Before","v":100},{"cond":"After","v":94}],
"derr":[{"cond":"Before","lo":68,"hi":134},{"cond":"During","lo":168,"hi":190},{"cond":"After","lo":128,"hi":146},{"cond":"After","lo":63,"hi":94}],
"eall":[{"cond":"Before","s":"All","v":100},{"cond":"During","s":"All","v":76},{"cond":"After","s":"All","v":89}],
"eo":[{"cond":"Before","s":"B","v":100},{"cond":"During","s":"B","v":94},{"cond":"After","s":"B","v":103},{"cond":"Before","s":"I","v":100},{"cond":"During","s":"I","v":72},{"cond":"After","s":"I","v":83}],
"eerr":[{"cond":"Before","lo":82,"hi":118},{"cond":"During","lo":63,"hi":90},{"cond":"After","lo":76,"hi":98}],
"elab":[{"cond":"Before","lab":"a"},{"cond":"During","lab":"b"},{"cond":"After","lab":"ab"}],
"stim":[{"g":"Abolished","r1":8.2,"r2":10.4},{"g":"Decreased","r1":8.0,"r2":10.2},{"g":"Increased","r1":8.2,"r2":10.9}],
"rate":[
{"g":"Abolished","t":1,"A":4.8,"B":0.6,"D":1},{"g":"Abolished","t":2,"A":4.5,"B":0.6,"D":1},{"g":"Abolished","t":3,"A":4,"B":0.6,"D":1},{"g":"Abolished","t":4,"A":3,"B":0.6,"D":1},{"g":"Abolished","t":5,"A":2.5,"B":0.6,"D":1},{"g":"Abolished","t":6,"A":2.5,"B":0.6,"D":1},{"g":"Abolished","t":7,"A":2.8,"B":0.6,"D":1},{"g":"Abolished","t":8,"A":2.2,"B":0.6,"D":1},{"g":"Abolished","t":9,"A":1.5,"B":0.6,"D":1},{"g":"Abolished","t":10,"A":2,"B":0.8,"D":1},
{"g":"Abolished","t":11,"A":5,"B":7.5,"D":2},{"g":"Abolished","t":12,"A":10,"B":15,"D":3.5},{"g":"Abolished","t":13,"A":14.5,"B":19.5,"D":4.5},{"g":"Abolished","t":14,"A":15,"B":20.5,"D":4.5},{"g":"Abolished","t":15,"A":14,"B":19,"D":4.5},{"g":"Abolished","t":16,"A":11,"B":14,"D":3.5},{"g":"Abolished","t":17,"A":5.5,"B":8,"D":2},{"g":"Abolished","t":18,"A":3,"B":3,"D":1.2},{"g":"Abolished","t":19,"A":2.5,"B":1.5,"D":1},{"g":"Abolished","t":20,"A":2,"B":1,"D":1},
{"g":"Abolished","t":21,"A":2,"B":0.8,"D":1},{"g":"Abolished","t":22,"A":1.5,"B":0.8,"D":1},{"g":"Abolished","t":23,"A":1.5,"B":0.8,"D":1},{"g":"Abolished","t":24,"A":2.5,"B":1,"D":1},{"g":"Abolished","t":25,"A":3.5,"B":3,"D":1},{"g":"Abolished","t":26,"A":4.5,"B":4,"D":1},{"g":"Abolished","t":27,"A":4,"B":3,"D":1},{"g":"Abolished","t":28,"A":2.5,"B":1,"D":1},{"g":"Abolished","t":29,"A":1.5,"B":0.8,"D":1},{"g":"Abolished","t":30,"A":1.5,"B":0.8,"D":1},
{"g":"Abolished","t":31,"A":2,"B":0.8,"D":1},{"g":"Abolished","t":32,"A":2.5,"B":0.8,"D":1},{"g":"Abolished","t":33,"A":3.5,"B":1,"D":1},{"g":"Abolished","t":34,"A":4.5,"B":3.5,"D":1},{"g":"Abolished","t":35,"A":4.8,"B":4.5,"D":1},{"g":"Abolished","t":36,"A":4,"B":3.5,"D":1},{"g":"Abolished","t":37,"A":3,"B":1,"D":1},{"g":"Abolished","t":38,"A":2,"B":0.8,"D":1},{"g":"Abolished","t":39,"A":2,"B":0.8,"D":1},{"g":"Abolished","t":40,"A":2.5,"B":0.8,"D":1},
{"g":"Decreased","t":1,"A":13,"B":20,"D":9},{"g":"Decreased","t":2,"A":11,"B":19,"D":9},{"g":"Decreased","t":3,"A":9,"B":17,"D":10},{"g":"Decreased","t":4,"A":7,"B":15,"D":11},{"g":"Decreased","t":5,"A":6.5,"B":14,"D":12},{"g":"Decreased","t":6,"A":9,"B":14,"D":11},{"g":"Decreased","t":7,"A":10,"B":15,"D":11},{"g":"Decreased","t":8,"A":6,"B":17,"D":11},{"g":"Decreased","t":9,"A":4,"B":19,"D":10},{"g":"Decreased","t":10,"A":3.5,"B":23,"D":12},
{"g":"Decreased","t":11,"A":25,"B":28,"D":22},{"g":"Decreased","t":12,"A":42,"B":42,"D":30},{"g":"Decreased","t":13,"A":45,"B":47,"D":34},{"g":"Decreased","t":14,"A":44,"B":49,"D":33},{"g":"Decreased","t":15,"A":42.5,"B":48,"D":26},{"g":"Decreased","t":16,"A":41,"B":46,"D":18},{"g":"Decreased","t":17,"A":39.5,"B":45,"D":14},{"g":"Decreased","t":18,"A":38,"B":44,"D":11.5},{"g":"Decreased","t":19,"A":36.5,"B":43,"D":11},{"g":"Decreased","t":20,"A":35,"B":41,"D":10.5},
{"g":"Decreased","t":21,"A":33.5,"B":40,"D":10.5},{"g":"Decreased","t":22,"A":32,"B":38,"D":10.5},{"g":"Decreased","t":23,"A":30.5,"B":36,"D":10.5},{"g":"Decreased","t":24,"A":29,"B":34.5,"D":10.5},{"g":"Decreased","t":25,"A":27.5,"B":34,"D":10.5},{"g":"Decreased","t":26,"A":26,"B":35,"D":10.5},{"g":"Decreased","t":27,"A":24.5,"B":32,"D":10.5},{"g":"Decreased","t":28,"A":23.5,"B":30,"D":10.5},{"g":"Decreased","t":29,"A":22.5,"B":29,"D":10.5},{"g":"Decreased","t":30,"A":21.5,"B":28,"D":10.5},
{"g":"Decreased","t":31,"A":20.5,"B":27.5,"D":10.5},{"g":"Decreased","t":32,"A":20,"B":28,"D":10.5},{"g":"Decreased","t":33,"A":21,"B":27,"D":10.5},{"g":"Decreased","t":34,"A":20,"B":26,"D":10.5},{"g":"Decreased","t":35,"A":12,"B":25,"D":9.5},{"g":"Decreased","t":36,"A":11,"B":23.5,"D":9.5},{"g":"Decreased","t":37,"A":11.5,"B":22,"D":9.5},{"g":"Decreased","t":38,"A":12,"B":21,"D":9},{"g":"Decreased","t":39,"A":13,"B":20,"D":9},{"g":"Decreased","t":40,"A":12,"B":19,"D":9},
{"g":"Increased","t":1,"A":23,"B":22,"D":25},{"g":"Increased","t":2,"A":23,"B":22,"D":27},{"g":"Increased","t":3,"A":24,"B":23,"D":27},{"g":"Increased","t":4,"A":23,"B":25,"D":28},{"g":"Increased","t":5,"A":23,"B":26,"D":27},{"g":"Increased","t":6,"A":22,"B":25,"D":26},{"g":"Increased","t":7,"A":23,"B":24,"D":26},{"g":"Increased","t":8,"A":23,"B":24,"D":25},{"g":"Increased","t":9,"A":23,"B":24,"D":26},{"g":"Increased","t":10,"A":23,"B":25,"D":26},
{"g":"Increased","t":11,"A":27,"B":28,"D":28},{"g":"Increased","t":12,"A":38,"B":38,"D":40},{"g":"Increased","t":13,"A":47,"B":47,"D":52},{"g":"Increased","t":14,"A":51,"B":52,"D":65},{"g":"Increased","t":15,"A":53,"B":55,"D":72},{"g":"Increased","t":16,"A":50,"B":55,"D":70},{"g":"Increased","t":17,"A":44,"B":51,"D":67},{"g":"Increased","t":18,"A":38,"B":48,"D":64},{"g":"Increased","t":19,"A":33,"B":45,"D":61},{"g":"Increased","t":20,"A":30,"B":42,"D":58},
{"g":"Increased","t":21,"A":28,"B":40,"D":56},{"g":"Increased","t":22,"A":26,"B":37,"D":52},{"g":"Increased","t":23,"A":24.5,"B":34,"D":49},{"g":"Increased","t":24,"A":24,"B":32,"D":46},{"g":"Increased","t":25,"A":23.5,"B":30,"D":42},{"g":"Increased","t":26,"A":23,"B":28,"D":39},{"g":"Increased","t":27,"A":23,"B":27,"D":35},{"g":"Increased","t":28,"A":23,"B":25.5,"D":32},{"g":"Increased","t":29,"A":23,"B":24.5,"D":30},{"g":"Increased","t":30,"A":23,"B":24,"D":28},
{"g":"Increased","t":31,"A":23,"B":23,"D":27},{"g":"Increased","t":32,"A":23,"B":24,"D":26},{"g":"Increased","t":33,"A":23,"B":24,"D":26},{"g":"Increased","t":34,"A":23,"B":23,"D":25},{"g":"Increased","t":35,"A":23,"B":23,"D":25},{"g":"Increased","t":36,"A":23,"B":23,"D":24},{"g":"Increased","t":37,"A":23,"B":24,"D":24},{"g":"Increased","t":38,"A":23,"B":23,"D":23},{"g":"Increased","t":39,"A":23,"B":23,"D":22},{"g":"Increased","t":40,"A":23,"B":23,"D":21}
]
},
"columns":1,"align":"none","spacing":25,
"concat":[
{"columns":1,"align":"none","spacing":0,"concat":[
{"data":{"name":"top"},
 "facet":{
  "row":{"field":"c","type":"nominal","sort":["Before","During","After"],"title":null,"header":{"labels":false}},
  "column":{"field":"p","type":"nominal","sort":["Bursts","Increased","Decreased"],"title":null,"header":{"labels":false}}
 },
 "spacing":{"row":7,"column":2},
 "spec":{"width":175,"height":123,"layer":[
  {"transform":[{"filter":"datum.k=='b'"}],"mark":{"type":"line","color":"black","strokeWidth":2.4},
   "encoding":{"x":{"field":"t","type":"quantitative","scale":{"domain":[0,176],"nice":false,"zero":false,"padding":0},"axis":null},"y":{"field":"v","type":"quantitative","scale":{"domain":[-15,108],"nice":false},"axis":null}}},
  {"transform":[{"filter":"datum.k=='b'"}],"mark":{"type":"line","color":"black","strokeWidth":2,"strokeDash":[2,6],"yOffset":7},
   "encoding":{"x":{"field":"t","type":"quantitative","scale":{"domain":[0,176],"nice":false,"zero":false,"padding":0},"axis":null},"y":{"field":"v","type":"quantitative","axis":null}}},
  {"transform":[{"filter":"datum.k=='s'"}],"mark":{"type":"bar","color":"black","size":1.4},
   "encoding":{"x":{"field":"t","type":"quantitative","scale":{"domain":[0,176],"nice":false,"zero":false,"padding":0},"axis":null},"y":{"field":"h","type":"quantitative","axis":null}}},
  {"transform":[{"filter":"datum.k=='sb'"}],"mark":{"type":"rule","color":"black","strokeWidth":2.5},
   "encoding":{"x":{"field":"t","type":"quantitative","scale":{"domain":[0,176],"nice":false,"zero":false,"padding":0},"axis":null},"x2":{"field":"t2"},"y":{"field":"v1","type":"quantitative","axis":null},"y2":{"field":"v2"}}},
  {"transform":[{"filter":"datum.k=='l'"}],"mark":{"type":"text","fontSize":25,"fontWeight":"bold","align":"left","baseline":"middle"},
   "encoding":{"x":{"datum":2,"scale":{"domain":[0,176],"nice":false,"zero":false,"padding":0},"axis":null},"y":{"datum":119,"axis":null},"text":{"field":"txt"}}},
  {"transform":[{"filter":"datum.k=='l'"}],"mark":{"type":"text","fontSize":20,"align":"center","baseline":"middle"},
   "encoding":{"x":{"datum":88,"scale":{"domain":[0,176],"nice":false,"zero":false,"padding":0},"axis":null},"y":{"datum":119,"axis":null},"text":{"field":"p"}}},
  {"transform":[{"filter":"datum.k=='b' && datum.t==0 && datum.p=='Bursts' && datum.c=='Before'"}],"mark":{"type":"text","fontSize":20,"align":"right","baseline":"middle"},
   "encoding":{"x":{"datum":-10,"scale":{"domain":[0,176],"nice":false,"zero":false,"padding":0},"axis":null},"y":{"datum":44,"axis":null},"text":{"value":"\u00a0\u00a0Before"}}},
  {"transform":[{"filter":"datum.k=='b' && datum.t==0 && datum.p=='Bursts' && datum.c=='During'"}],"mark":{"type":"text","fontSize":20,"align":"right","baseline":"middle"},
   "encoding":{"x":{"datum":-10,"scale":{"domain":[0,176],"nice":false,"zero":false,"padding":0},"axis":null},"y":{"datum":52,"axis":null},"text":{"value":"During"}}},
  {"transform":[{"filter":"datum.k=='b' && datum.t==0 && datum.p=='Bursts' && datum.c=='After'"}],"mark":{"type":"text","fontSize":20,"align":"right","baseline":"middle"},
   "encoding":{"x":{"datum":-10,"scale":{"domain":[0,176],"nice":false,"zero":false,"padding":0},"axis":null},"y":{"datum":59,"axis":null},"text":{"value":"After"}}}
 ]}
},
{"hconcat":[
 {"width":221,"height":133,
  "title":{"text":"d","anchor":"start","frame":"bounds","fontSize":25,"fontWeight":"bold","offset":-5},
  "layer":[
   {"data":{"name":"dflat"},"mark":{"type":"line","color":"black","strokeWidth":1.5},
    "encoding":{"x":{"field":"cond","type":"nominal","sort":["Before","During","After"],"scale":{"type":"band","paddingInner":0,"paddingOuter":0},"axis":{"title":null,"labelAngle":0,"labelFontSize":17,"tickBand":"extent","tickSize":4,"labelPadding":3,"domainWidth":2}},
     "y":{"field":"v","type":"quantitative","scale":{"domain":[0,250]},"axis":{"title":["Resting Activity","(% of baseline)"],"values":[0,50,100,150,200,250],"labelExpr":"datum.value % 100 == 0 ? datum.label : ''","labelFontSize":17,"titleFontSize":16,"titlePadding":6,"tickSize":4,"labelPadding":2,"domainWidth":2}}}},
   {"data":{"name":"dpts"},"transform":[{"filter":"datum.s=='B'"}],"mark":{"type":"line","color":"black","strokeWidth":1.5,"strokeDash":[5,3]},
    "encoding":{"x":{"field":"cond","type":"nominal","sort":["Before","During","After"]},
     "y":{"field":"v","type":"quantitative","axis":{"title":["Resting Activity","(% of baseline)"]}}}},
   {"data":{"name":"dpts"},"transform":[{"filter":"datum.s!='B'"}],"mark":{"type":"line","color":"black","strokeWidth":1.5},
    "encoding":{"x":{"field":"cond","type":"nominal","sort":["Before","During","After"]},
     "y":{"field":"v","type":"quantitative","axis":{"title":["Resting Activity","(% of baseline)"]}},
     "detail":{"field":"s"}}},
   {"data":{"name":"derr"},"mark":{"type":"rule","color":"black","strokeWidth":1.5},
    "encoding":{"x":{"field":"cond","type":"nominal","sort":["Before","During","After"]},
     "y":{"field":"lo","type":"quantitative","axis":{"title":["Resting Activity","(% of baseline)"]}},"y2":{"field":"hi"}}},
   {"data":{"name":"derr"},"mark":{"type":"tick","color":"black","orient":"horizontal","size":9,"thickness":1.5},
    "encoding":{"x":{"field":"cond","type":"nominal","sort":["Before","During","After"]},
     "y":{"field":"lo","type":"quantitative","axis":{"title":["Resting Activity","(% of baseline)"]}}}},
   {"data":{"name":"derr"},"mark":{"type":"tick","color":"black","orient":"horizontal","size":9,"thickness":1.5},
    "encoding":{"x":{"field":"cond","type":"nominal","sort":["Before","During","After"]},
     "y":{"field":"hi","type":"quantitative","axis":{"title":["Resting Activity","(% of baseline)"]}}}},
   {"data":{"name":"dpts"},"mark":{"type":"point","filled":true,"strokeWidth":1.5,"size":110,"opacity":1},
    "encoding":{"x":{"field":"cond","type":"nominal","sort":["Before","During","After"]},
     "y":{"field":"v","type":"quantitative","axis":{"title":["Resting Activity","(% of baseline)"]}},
     "shape":{"field":"s","type":"nominal","scale":{"domain":["B","I","D"],"range":["diamond","square","triangle-up"]},
      "legend":{"title":null,"orient":"none","legendX":190,"legendY":22,"labelFontSize":17,"symbolSize":100,"symbolStrokeWidth":1.5,"rowPadding":4,"labelOffset":5}},
     "fill":{"field":"s","type":"nominal","scale":{"domain":["B","I","D"],"range":["#ffffff","#ffffff","#ffffff"]},
      "legend":{"title":null,"orient":"none","legendX":190,"legendY":22,"labelFontSize":17,"symbolSize":100,"symbolStrokeWidth":1.5,"rowPadding":4,"labelOffset":5}},
     "stroke":{"field":"s","type":"nominal","scale":{"domain":["B","I","D"],"range":["#000000","#000000","#000000"]},
      "legend":{"title":null,"orient":"none","legendX":190,"legendY":22,"labelFontSize":17,"symbolSize":100,"symbolStrokeWidth":1.5,"rowPadding":4,"labelOffset":5}}}}
  ]},
 {"width":222,"height":135,
  "title":{"text":"e","anchor":"start","frame":"bounds","fontSize":25,"fontWeight":"bold","offset":-23},
  "layer":[
   {"data":{"name":"eall"},"mark":{"type":"line","color":"black","strokeWidth":1.5},
    "encoding":{"x":{"field":"cond","type":"nominal","sort":["Before","During","After"],"scale":{"type":"band","paddingInner":0,"paddingOuter":0},"axis":{"title":null,"labelAngle":0,"labelFontSize":17,"tickBand":"extent","tickSize":4,"labelPadding":3,"domainWidth":2}},
     "y":{"field":"v","type":"quantitative","scale":{"domain":[60,120]},"axis":{"title":["Conductance","(% of baseline)"],"values":[60,70,80,90,100,110,120],"labelExpr":"datum.value % 20 == 0 ? datum.label : ''","labelFontSize":17,"titleFontSize":16,"titlePadding":6,"tickSize":4,"labelPadding":2,"domainWidth":2}}}},
   {"data":{"name":"eerr"},"mark":{"type":"rule","color":"black","strokeWidth":1.5},
    "encoding":{"x":{"field":"cond","type":"nominal","sort":["Before","During","After"]},
     "y":{"field":"lo","type":"quantitative","axis":{"title":["Conductance","(% of baseline)"]}},"y2":{"field":"hi"}}},
   {"data":{"name":"eerr"},"mark":{"type":"tick","color":"black","orient":"horizontal","size":9,"thickness":1.5},
    "encoding":{"x":{"field":"cond","type":"nominal","sort":["Before","During","After"]},
     "y":{"field":"lo","type":"quantitative","axis":{"title":["Conductance","(% of baseline)"]}}}},
   {"data":{"name":"eerr"},"mark":{"type":"tick","color":"black","orient":"horizontal","size":9,"thickness":1.5},
    "encoding":{"x":{"field":"cond","type":"nominal","sort":["Before","During","After"]},
     "y":{"field":"hi","type":"quantitative","axis":{"title":["Conductance","(% of baseline)"]}}}},
   {"data":{"name":"elab"},"mark":{"type":"text","fontSize":20,"baseline":"middle"},
    "encoding":{"x":{"field":"cond","type":"nominal","sort":["Before","During","After"]},"y":{"datum":123},"text":{"field":"lab"}}},
   {"data":{"name":"eo"},"transform":[{"filter":"datum.s=='B'"}],"mark":{"type":"point","shape":"diamond","filled":true,"fill":"white","stroke":"black","strokeWidth":1.5,"size":90,"opacity":1},
    "encoding":{"x":{"field":"cond","type":"nominal","sort":["Before","During","After"]},"y":{"field":"v","type":"quantitative","axis":{"title":["Conductance","(% of baseline)"]}}}},
   {"data":{"name":"eo"},"transform":[{"filter":"datum.s=='I'"}],"mark":{"type":"point","shape":"square","filled":true,"fill":"white","stroke":"black","strokeWidth":1.5,"size":70,"opacity":1},
    "encoding":{"x":{"field":"cond","type":"nominal","sort":["Before","During","After"]},"y":{"field":"v","type":"quantitative","axis":{"title":["Conductance","(% of baseline)"]}}}},
   {"data":{"name":"eall"},"mark":{"type":"point","filled":true,"strokeWidth":3.5,"size":70,"opacity":1},
    "encoding":{"x":{"field":"cond","type":"nominal","sort":["Before","During","After"]},"y":{"field":"v","type":"quantitative","axis":{"title":["Conductance","(% of baseline)"]}},
     "shape":{"field":"s","type":"nominal","scale":{"domain":["All"],"range":["circle"]},"legend":{"title":null,"orient":"bottom-right","offset":4,"labelFontSize":17,"symbolSize":80,"symbolStrokeWidth":3.5}},
     "fill":{"field":"s","type":"nominal","scale":{"domain":["All"],"range":["#ffffff"]},"legend":{"title":null,"orient":"bottom-right","offset":4,"labelFontSize":17,"symbolSize":80,"symbolStrokeWidth":3.5}},
     "stroke":{"field":"s","type":"nominal","scale":{"domain":["All"],"range":["#000000"]},"legend":{"title":null,"orient":"bottom-right","offset":4,"labelFontSize":17,"symbolSize":80,"symbolStrokeWidth":3.5}}}}
  ]}
 ],
 "spacing":37,
 "resolve":{"scale":{"shape":"independent","fill":"independent","stroke":"independent"},"legend":{"shape":"independent","fill":"independent","stroke":"independent"}}}
]},
{"columns":1,"align":"none","spacing":9,"concat":[
{"data":{"name":"fh"},
 "facet":{
  "row":{"field":"c","type":"nominal","sort":["Before","During","After"],"title":null,"header":{"labels":false}},
  "column":{"field":"p","type":"nominal","sort":["Abolished","Decreased","Increased"],"title":null,"header":{"labels":false}}
 },
 "spacing":{"row":0,"column":0},
 "spec":{"width":174,"height":112,"layer":[
  {"transform":[{"filter":"datum.k=='r'"}],"mark":{"type":"rect","fill":"#d3d3d3"},
   "encoding":{"x":{"field":"r1","type":"quantitative","scale":{"domain":[0,175],"nice":false,"zero":false,"padding":0},"axis":null},"x2":{"field":"r2"}}},
  {"transform":[{"filter":"datum.k=='r'"}],"mark":{"type":"rule","color":"#8a8a8a","strokeWidth":1},
   "encoding":{"x":{"field":"r1","type":"quantitative","scale":{"domain":[0,175],"nice":false,"zero":false,"padding":0},"axis":null}}},
  {"transform":[{"filter":"datum.k=='r'"}],"mark":{"type":"rule","color":"#8a8a8a","strokeWidth":1},
   "encoding":{"x":{"field":"r2","type":"quantitative","scale":{"domain":[0,175],"nice":false,"zero":false,"padding":0},"axis":null}}},
  {"transform":[{"filter":"datum.k=='b'"}],"mark":{"type":"line","color":"#1a1a1a","strokeWidth":1.7},
   "encoding":{"x":{"field":"t","type":"quantitative","scale":{"domain":[0,175],"nice":false,"zero":false,"padding":0},"axis":null},"y":{"field":"v","type":"quantitative","scale":{"domain":[-24,88],"nice":false},"axis":null}}},
  {"transform":[{"filter":"datum.k=='s'"}],"mark":{"type":"bar","color":"#3a3a3a","size":1},
   "encoding":{"x":{"field":"t","type":"quantitative","scale":{"domain":[0,175],"nice":false,"zero":false,"padding":0},"axis":null},"y":{"field":"h","type":"quantitative","axis":null}}},
  {"transform":[{"filter":"datum.k=='sb'"}],"mark":{"type":"rule","color":"black","strokeWidth":3},
   "encoding":{"x":{"field":"t","type":"quantitative","scale":{"domain":[0,175],"nice":false,"zero":false,"padding":0},"axis":null},"x2":{"field":"t2"},"y":{"field":"v1","type":"quantitative","axis":null},"y2":{"field":"v2"}}},
  {"transform":[{"filter":"datum.k=='l' && datum.p=='Abolished'"}],"mark":{"type":"text","fontSize":25,"fontWeight":"bold","align":"left","baseline":"middle"},
   "encoding":{"x":{"datum":-20,"scale":{"domain":[0,175],"nice":false,"zero":false,"padding":0},"axis":null},"y":{"datum":114,"axis":null},"text":{"field":"txt"}}},
  {"transform":[{"filter":"datum.k=='l' && datum.p!='Abolished'"}],"mark":{"type":"text","fontSize":25,"fontWeight":"bold","align":"left","baseline":"middle"},
   "encoding":{"x":{"datum":3,"scale":{"domain":[0,175],"nice":false,"zero":false,"padding":0},"axis":null},"y":{"datum":114,"axis":null},"text":{"field":"txt"}}},
  {"transform":[{"filter":"datum.k=='l'"}],"mark":{"type":"text","fontSize":21,"align":"center","baseline":"middle"},
   "encoding":{"x":{"datum":87,"scale":{"domain":[0,175],"nice":false,"zero":false,"padding":0},"axis":null},"y":{"datum":114,"axis":null},"text":{"field":"p"}}},
  {"transform":[{"filter":"datum.k=='b' && datum.t==0 && datum.p=='Abolished' && datum.c=='Before'"}],"mark":{"type":"text","fontSize":21,"align":"right","baseline":"middle"},
   "encoding":{"x":{"datum":-23,"scale":{"domain":[0,175],"nice":false,"zero":false,"padding":0},"axis":null},"y":{"datum":58,"axis":null},"text":{"value":"Before"}}},
  {"transform":[{"filter":"datum.k=='b' && datum.t==0 && datum.p=='Abolished' && datum.c=='During'"}],"mark":{"type":"text","fontSize":21,"align":"right","baseline":"middle"},
   "encoding":{"x":{"datum":-23,"scale":{"domain":[0,175],"nice":false,"zero":false,"padding":0},"axis":null},"y":{"datum":45,"axis":null},"text":{"value":"During"}}},
  {"transform":[{"filter":"datum.k=='b' && datum.t==0 && datum.p=='Abolished' && datum.c=='After'"}],"mark":{"type":"text","fontSize":21,"align":"right","baseline":"middle"},
   "encoding":{"x":{"datum":-23,"scale":{"domain":[0,175],"nice":false,"zero":false,"padding":0},"axis":null},"y":{"datum":35,"axis":null},"text":{"value":"After"}}}
 ]}
},
{"hconcat":[
 {"width":145,"height":135,
  "title":{"text":"i","anchor":"start","frame":"bounds","fontSize":25,"fontWeight":"bold","offset":-21},
  "layer":[
   {"data":{"name":"stim"},"transform":[{"filter":"datum.g=='Abolished'"}],"mark":{"type":"rect","fill":"#d0d0d0","stroke":"#8c8c8c","strokeWidth":1},
    "encoding":{"x":{"field":"r1","type":"quantitative","scale":{"domain":[0,41]},"axis":{"title":"Time →","labels":false,"tickCount":40,"tickSize":3,"titleFontSize":17,"titlePadding":5,"domainWidth":1.5}},"x2":{"field":"r2"}}},
   {"data":{"name":"rate"},"transform":[{"filter":"datum.g=='Abolished'"},{"fold":["B","D","A"],"as":["s","v"]}],"mark":{"type":"line","strokeWidth":0.8,"color":"#9a9a9a"},
    "encoding":{"x":{"field":"t","type":"quantitative","axis":{"title":"Time →"}},
     "y":{"field":"v","type":"quantitative","scale":{"domain":[0,25]},"axis":{"title":"Mean spikes /s","values":[0,5,10,15,20,25],"labelExpr":"datum.value % 10 == 0 ? datum.label : ''","labelFontSize":17,"titleFontSize":16,"titlePadding":3,"tickSize":4,"labelPadding":2,"domainWidth":1.5}},
     "detail":{"field":"s"}}},
   {"data":{"name":"rate"},"transform":[{"filter":"datum.g=='Abolished'"},{"fold":["B","D","A"],"as":["s","v"]}],"mark":{"type":"point","filled":true,"size":40,"strokeWidth":1,"opacity":1},
    "encoding":{"x":{"field":"t","type":"quantitative","axis":{"title":"Time →"}},"y":{"field":"v","type":"quantitative","axis":{"title":"Mean spikes /s"}},
     "shape":{"field":"s","type":"nominal","scale":{"domain":["B","D","A"],"range":["diamond","square","triangle-up"]},"legend":null},
     "fill":{"field":"s","type":"nominal","scale":{"domain":["B","D","A"],"range":["#ffffff","#8c8c8c","#000000"]},"legend":null},
     "stroke":{"field":"s","type":"nominal","scale":{"domain":["B","D","A"],"range":["#a0a0a0","#6e6e6e","#000000"]},"legend":null}}},
   {"data":{"values":[{"lab":"B"}]},"mark":{"type":"point","shape":"diamond","filled":true,"fill":"#ffffff","stroke":"#a0a0a0","strokeWidth":1,"size":60,"opacity":1},
    "encoding":{"x":{"datum":32.8},"y":{"datum":23.9}}},
   {"data":{"values":[{"lab":"D"}]},"mark":{"type":"point","shape":"square","filled":true,"fill":"#8c8c8c","stroke":"#6e6e6e","strokeWidth":1,"size":60,"opacity":1},
    "encoding":{"x":{"datum":32.8},"y":{"datum":18.9}}},
   {"data":{"values":[{"lab":"A"}]},"mark":{"type":"point","shape":"triangle-up","filled":true,"fill":"#000000","stroke":"#000000","strokeWidth":1,"size":60,"opacity":1},
    "encoding":{"x":{"datum":32.8},"y":{"datum":14.8}}},
   {"data":{"values":[{"lab":"B"}]},"mark":{"type":"text","fontSize":20,"align":"left","baseline":"middle"},
    "encoding":{"x":{"datum":35},"y":{"datum":23.9},"text":{"field":"lab"}}},
   {"data":{"values":[{"lab":"D"}]},"mark":{"type":"text","fontSize":20,"align":"left","baseline":"middle"},
    "encoding":{"x":{"datum":35},"y":{"datum":18.9},"text":{"field":"lab"}}},
   {"data":{"values":[{"lab":"A"}]},"mark":{"type":"text","fontSize":20,"align":"left","baseline":"middle"},
    "encoding":{"x":{"datum":35},"y":{"datum":14.8},"text":{"field":"lab"}}},
   {"data":{"values":[{"lab":"Abolished"}]},"mark":{"type":"text","fontSize":21,"align":"center","baseline":"alphabetic"},
    "encoding":{"x":{"datum":20.5},"y":{"datum":27},"text":{"field":"lab"}}}
  ]},
 {"width":145,"height":134,
  "title":{"text":"j","anchor":"start","frame":"bounds","fontSize":25,"fontWeight":"bold","offset":-21},
  "layer":[
   {"data":{"name":"stim"},"transform":[{"filter":"datum.g=='Decreased'"}],"mark":{"type":"rect","fill":"#d0d0d0","stroke":"#8c8c8c","strokeWidth":1},
    "encoding":{"x":{"field":"r1","type":"quantitative","scale":{"domain":[0,41]},"axis":{"title":"Time →","labels":false,"tickCount":40,"tickSize":3,"titleFontSize":17,"titlePadding":5,"domainWidth":1.5}},"x2":{"field":"r2"}}},
   {"data":{"name":"rate"},"transform":[{"filter":"datum.g=='Decreased'"},{"fold":["B","D","A"],"as":["s","v"]}],"mark":{"type":"line","strokeWidth":0.8,"color":"#9a9a9a"},
    "encoding":{"x":{"field":"t","type":"quantitative","axis":{"title":"Time →"}},
     "y":{"field":"v","type":"quantitative","scale":{"domain":[0,60]},"axis":{"title":"Mean spikes /s","values":[0,10,20,30,40,50,60],"labelExpr":"datum.value % 20 == 0 ? datum.label : ''","labelFontSize":17,"titleFontSize":16,"titlePadding":3,"tickSize":4,"labelPadding":2,"domainWidth":1.5}},
     "detail":{"field":"s"}}},
   {"data":{"name":"rate"},"transform":[{"filter":"datum.g=='Decreased'"},{"fold":["B","D","A"],"as":["s","v"]}],"mark":{"type":"point","filled":true,"size":40,"strokeWidth":1,"opacity":1},
    "encoding":{"x":{"field":"t","type":"quantitative","axis":{"title":"Time →"}},"y":{"field":"v","type":"quantitative","axis":{"title":"Mean spikes /s"}},
     "shape":{"field":"s","type":"nominal","scale":{"domain":["B","D","A"],"range":["diamond","square","triangle-up"]},"legend":null},
     "fill":{"field":"s","type":"nominal","scale":{"domain":["B","D","A"],"range":["#ffffff","#8c8c8c","#000000"]},"legend":null},
     "stroke":{"field":"s","type":"nominal","scale":{"domain":["B","D","A"],"range":["#a0a0a0","#6e6e6e","#000000"]},"legend":null}}},
   {"data":{"values":[{"lab":"Decreased"}]},"mark":{"type":"text","fontSize":21,"align":"center","baseline":"alphabetic"},
    "encoding":{"x":{"datum":20.5},"y":{"datum":65.5},"text":{"field":"lab"}}}
  ]},
 {"width":145,"height":135,
  "title":{"text":"k","anchor":"start","frame":"bounds","fontSize":25,"fontWeight":"bold","offset":-21},
  "layer":[
   {"data":{"name":"stim"},"transform":[{"filter":"datum.g=='Increased'"}],"mark":{"type":"rect","fill":"#d0d0d0","stroke":"#8c8c8c","strokeWidth":1},
    "encoding":{"x":{"field":"r1","type":"quantitative","scale":{"domain":[0,41]},"axis":{"title":"Time →","labels":false,"tickCount":40,"tickSize":3,"titleFontSize":17,"titlePadding":5,"domainWidth":1.5}},"x2":{"field":"r2"}}},
   {"data":{"name":"rate"},"transform":[{"filter":"datum.g=='Increased'"},{"fold":["B","D","A"],"as":["s","v"]}],"mark":{"type":"line","strokeWidth":0.8,"color":"#9a9a9a"},
    "encoding":{"x":{"field":"t","type":"quantitative","axis":{"title":"Time →"}},
     "y":{"field":"v","type":"quantitative","scale":{"domain":[0,80]},"axis":{"title":"Mean spikes /s","values":[0,10,20,30,40,50,60,70,80],"labelExpr":"datum.value % 40 == 0 ? datum.label : ''","labelFontSize":17,"titleFontSize":16,"titlePadding":3,"tickSize":4,"labelPadding":2,"domainWidth":1.5}},
     "detail":{"field":"s"}}},
   {"data":{"name":"rate"},"transform":[{"filter":"datum.g=='Increased'"},{"fold":["B","D","A"],"as":["s","v"]}],"mark":{"type":"point","filled":true,"size":40,"strokeWidth":1,"opacity":1},
    "encoding":{"x":{"field":"t","type":"quantitative","axis":{"title":"Time →"}},"y":{"field":"v","type":"quantitative","axis":{"title":"Mean spikes /s"}},
     "shape":{"field":"s","type":"nominal","scale":{"domain":["B","D","A"],"range":["diamond","square","triangle-up"]},"legend":null},
     "fill":{"field":"s","type":"nominal","scale":{"domain":["B","D","A"],"range":["#ffffff","#8c8c8c","#000000"]},"legend":null},
     "stroke":{"field":"s","type":"nominal","scale":{"domain":["B","D","A"],"range":["#a0a0a0","#6e6e6e","#000000"]},"legend":null}}},
   {"data":{"values":[{"lab":"Increased"}]},"mark":{"type":"text","fontSize":21,"align":"center","baseline":"alphabetic"},
    "encoding":{"x":{"datum":20.5},"y":{"datum":87},"text":{"field":"lab"}}}
  ]}
 ],
 "spacing":20,
 "resolve":{"scale":{"shape":"independent","fill":"independent","stroke":"independent"},"legend":{"shape":"independent","fill":"independent","stroke":"independent"}}}
]}
]
}
